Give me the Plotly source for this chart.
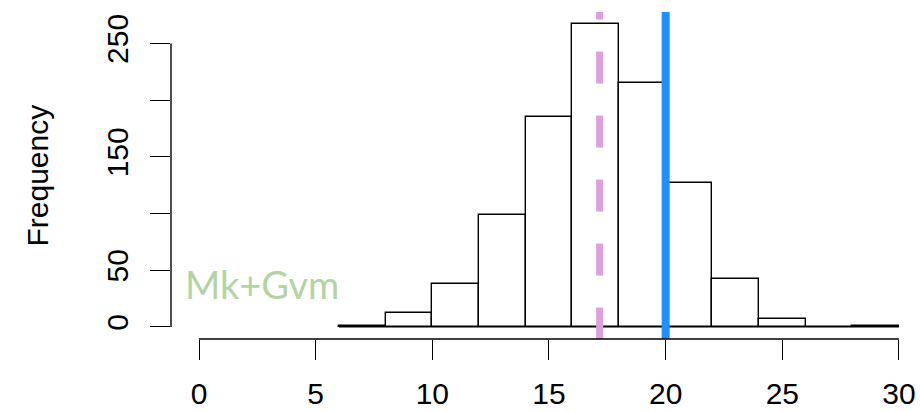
import plotly.graph_objects as go

# Histogram bins (width 2) and counts
breaks = [6, 8, 10, 12, 14, 16, 18, 20, 22, 24, 26, 28, 30]
counts = [1, 12, 38, 99, 185, 267, 215, 127, 42, 7, 0, 1]

# Reference lines
observed_value = 20.0
mean_value = 17.17

x_ticks = [0, 5, 10, 15, 20, 25, 30]
y_ticks = [0, 50, 100, 150, 200, 250]
y_ticktext = ["0", "50", "", "150", "", "250"]

label_text = "Mk+Gvm"
y_title = "Frequency"

W, H = 920, 411
ML, MT, MB, MR = 171, 12, 72, 0
plot_w = W - ML - MR
px_per_unit = 23.333
x_lo = -1.2
x_range = [x_lo, x_lo + plot_w / px_per_unit]
y_top = max(counts)
y_range = [-0.04 * y_top, 1.04 * y_top]

mids = [(a + b) / 2 for a, b in zip(breaks[:-1], breaks[1:])]
widths = [b - a for a, b in zip(breaks[:-1], breaks[1:])]

font = "Liberation Sans, Arial, Helvetica, sans-serif"

fig = go.Figure()
fig.add_trace(go.Bar(
    x=mids, y=counts, width=widths,
    marker=dict(color="white", line=dict(color="black", width=1.4)),
    showlegend=False, hoverinfo="skip",
))

shapes = []
# baseline spanning all bins (zero-height bins included)
shapes.append(dict(type="line", xref="x", yref="y", x0=breaks[0], x1=breaks[-1], y0=0, y1=0,
                   line=dict(color="black", width=1.4), layer="above"))
# mean line (dashed) and observed value line
span = y_range[1] - y_range[0]
shapes.append(dict(type="line", xref="x", yref="y", x0=mean_value, x1=mean_value,
                   y0=y_range[1] + 0.075 * span, y1=y_range[0] - 0.1 * span,
                   line=dict(color="#DDA0DD", width=7, dash="32px,32px"), layer="above"))
shapes.append(dict(type="line", xref="x", yref="y", x0=observed_value, x1=observed_value,
                   y0=y_range[0], y1=y_range[1],
                   line=dict(color="#1E90FF", width=8), layer="above"))
# axis lines limited to the tick span
shapes.append(dict(type="line", xref="x", yref="paper", x0=x_ticks[0], x1=x_ticks[-1], y0=0, y1=0,
                   line=dict(color="black", width=1.4)))
shapes.append(dict(type="line", xref="paper", yref="y", x0=0, x1=0, y0=y_ticks[0], y1=y_ticks[-1],
                   line=dict(color="black", width=1.4)))

fig.update_layout(
    width=W, height=H,
    margin=dict(l=ML, r=MR, t=MT, b=MB, pad=0, autoexpand=False),
    paper_bgcolor="white", plot_bgcolor="white",
    bargap=0,
    shapes=shapes,
    font=dict(family=font, size=30, color="black"),
    xaxis=dict(range=x_range, tickvals=x_ticks, ticks="outside", ticklen=20, tickwidth=1.4,
               tickcolor="black", showline=False, showgrid=False, zeroline=False,
               automargin=False, ticklabelstandoff=8, tickfont=dict(size=30)),
    yaxis=dict(range=y_range, tickvals=y_ticks, ticktext=y_ticktext, ticks="outside", ticklen=20,
               tickwidth=1.4, tickcolor="black", showline=False, showgrid=False, zeroline=False,
               automargin=False, tickangle=-90, ticklabelstandoff=10, tickfont=dict(size=30)),
    annotations=[
        dict(text=y_title, xref="paper", yref="paper", x=(37 - ML) / plot_w, y=0.5,
             xanchor="center", yanchor="middle", textangle=-90, showarrow=False,
             font=dict(size=30)),
        dict(text=label_text, xref="paper", yref="paper", x=(183 - ML) / plot_w,
             y=1 - (284 - MT) / (H - MT - MB), xanchor="left", yanchor="middle",
             showarrow=False, font=dict(family="Lato, sans-serif", size=38, color="#B2D3A3")),
    ],
)

fig.write_html("out.html")
